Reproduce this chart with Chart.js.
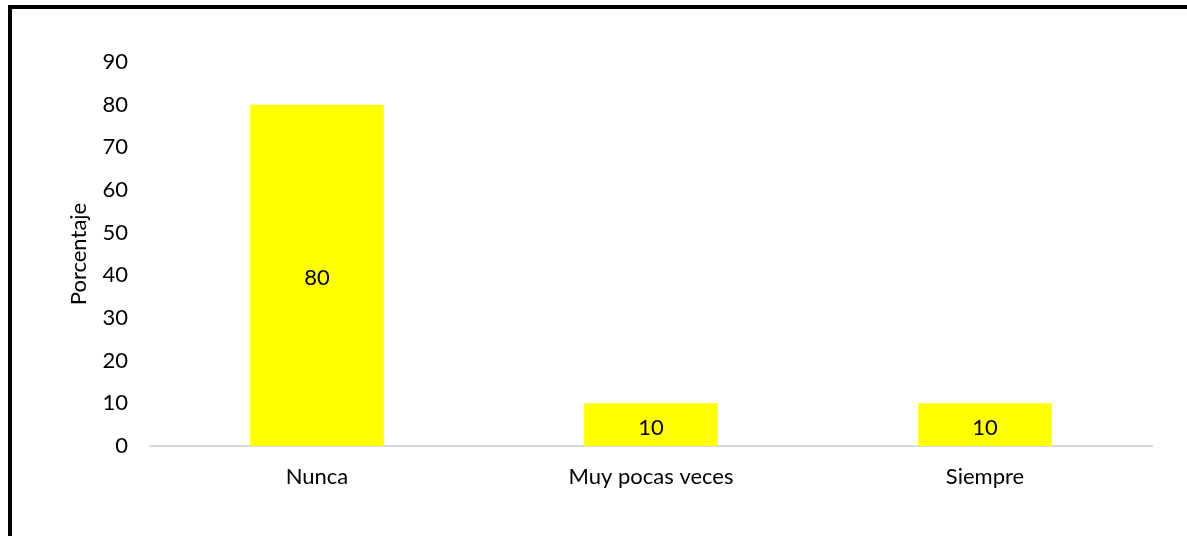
<!DOCTYPE html>
<html lang="es">
<head>
  <meta charset="UTF-8">
  <title>Porcentaje</title>
  <script src="https://cdn.jsdelivr.net/npm/chart.js"></script>
  <style>
    html, body {
      margin: 0;
      padding: 0;
      background: #fff;
    }
    .wrap {
      position: relative;
      width: 1187px;
      height: 536px;
      overflow: hidden;
    }
    .marco {
      position: absolute;
      left: 8px;
      top: 5px;
      width: 1300px;
      height: 700px;
      border-top: 4px solid #000;
      border-left: 4px solid #000;
      pointer-events: none;
    }
    canvas {
      position: absolute;
      left: 0;
      top: 0;
    }
  </style>
</head>
<body>
  <div class="wrap">
    <canvas id="barChart" width="1187" height="536"></canvas>
    <div class="marco"></div>
  </div>

  <script>
    const categorias = ['Nunca', 'Muy pocas veces', 'Siempre'];
    const porcentajes = [80, 10, 10];
    const ticksY = [0, 10, 20, 30, 40, 50, 60, 70, 80, 90];

    const fuente = "Lato, 'Open Sans', Arial, sans-serif";

    // etiquetas de valor en el centro de cada barra
    const etiquetasBarras = {
      id: 'etiquetasBarras',
      afterDatasetsDraw(chart) {
        const ctx = chart.ctx;
        const meta = chart.getDatasetMeta(0);
        ctx.save();
        ctx.font = '22px ' + fuente;
        ctx.fillStyle = '#000';
        ctx.textAlign = 'center';
        ctx.textBaseline = 'middle';
        meta.data.forEach((bar, i) => {
          const y = (bar.y + bar.base) / 2;
          ctx.fillText(porcentajes[i], bar.x, y + 3);
        });
        ctx.restore();
      }
    };

    new Chart(document.getElementById('barChart').getContext('2d'), {
      type: 'bar',
      data: {
        labels: categorias,
        datasets: [{
          data: porcentajes,
          backgroundColor: '#FFFF00',
          borderWidth: 0,
          categoryPercentage: 1,
          barPercentage: 0.4
        }]
      },
      options: {
        responsive: false,
        animation: false,
        layout: {
          padding: { top: 62, right: 35, left: 66, bottom: 0 }
        },
        plugins: {
          legend: { display: false },
          tooltip: { enabled: false }
        },
        scales: {
          x: {
            grid: { display: false, drawTicks: false },
            border: { display: true, color: '#d9d9d9', width: 2 },
            ticks: {
              color: '#000',
              padding: 18,
              font: { family: fuente, size: 22 }
            },
            afterFit(scale) { scale.height = 90; }
          },
          y: {
            min: 0,
            max: 90,
            afterBuildTicks(scale) {
              scale.ticks = ticksY.map(v => ({ value: v }));
            },
            grid: { display: false, drawTicks: false },
            border: { display: false },
            ticks: {
              color: '#000',
              padding: 22,
              font: { family: fuente, size: 22 }
            },
            title: {
              display: true,
              text: 'Porcentaje',
              color: '#000',
              font: { family: fuente, size: 22 },
              padding: { top: 0, bottom: 0 }
            },
            afterFit(scale) { scale.width = 84; }
          }
        }
      },
      plugins: [etiquetasBarras]
    });
  </script>
</body>
</html>
